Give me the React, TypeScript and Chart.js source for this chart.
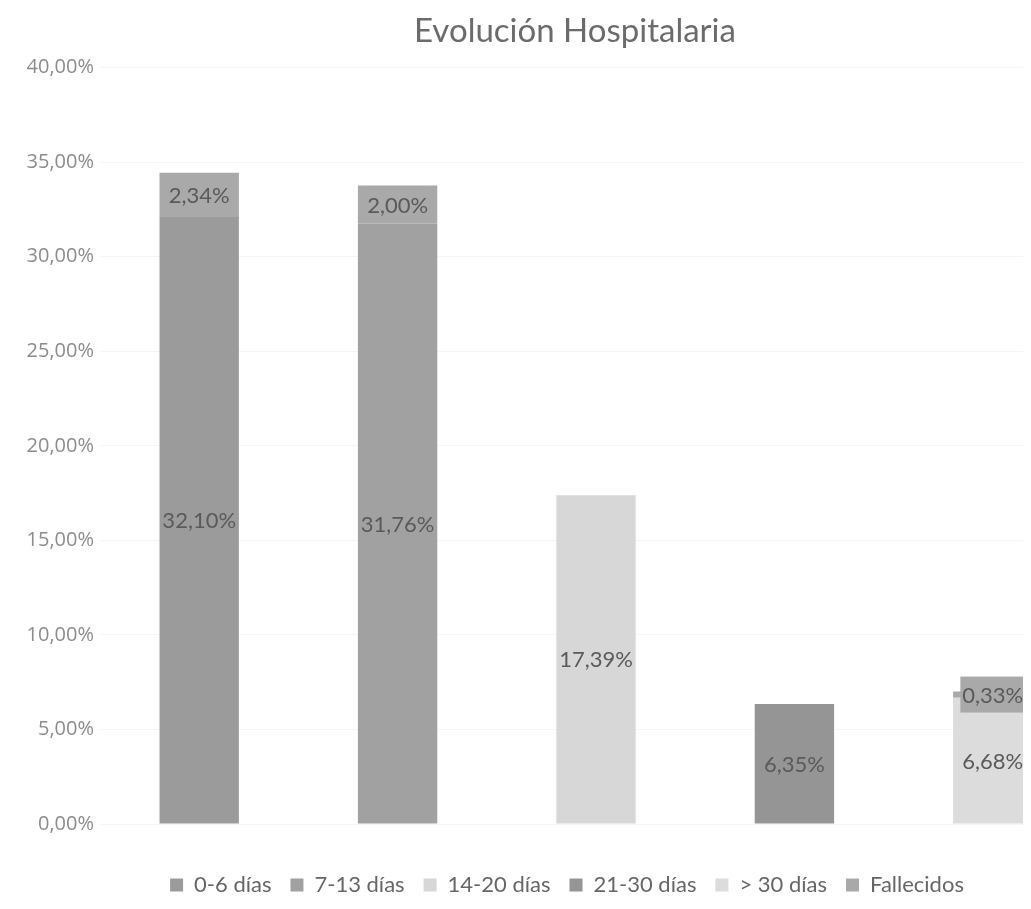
import React, { useEffect, useRef } from "react";
import { Chart, registerables } from "chart.js";

Chart.register(...registerables);

const TITLE = "Evolución Hospitalaria";
const categories = ["1", "2", "3", "4", "5"];
const seriesNames = ["0-6 días", "7-13 días", "14-20 días", "21-30 días", "> 30 días", "Fallecidos"];
const dias0_6: (number | null)[] = [32.1, null, null, null, null];
const dias7_13: (number | null)[] = [null, 31.76, null, null, null];
const dias14_20: (number | null)[] = [null, null, 17.39, null, null];
const dias21_30: (number | null)[] = [null, null, null, 6.35, null];
const dias30plus: (number | null)[] = [null, null, null, null, 6.68];
const fallecidos: (number | null)[] = [2.34, 2.0, null, null, 0.33];
const seriesColors = ["#9b9b9b", "#a1a1a1", "#d7d7d7", "#959595", "#dcdcdc", "#a9a9a9"];
const yTicks = { min: 0, max: 40, step: 5 };

const fmt = (v: number, d: number) => v.toFixed(d).replace(".", ",") + "%";

const labelPlugin = {
  id: "segLabels",
  afterLayout(chart: any) {
    if (chart.titleBlock) {
      chart.titleBlock.left += 25;
      chart.titleBlock.right += 25;
    }
    if (chart.legend) {
      chart.legend.left += 17;
      chart.legend.right += 17;
    }
  },
  afterDatasetsDraw(chart: any) {
    const ctx = chart.ctx;
    ctx.save();
    ctx.font = "22px Lato";
    ctx.textAlign = "center";
    ctx.textBaseline = "middle";
    chart.data.datasets.forEach((ds: any, di: number) => {
      const meta = chart.getDatasetMeta(di);
      meta.data.forEach((el: any, i: number) => {
        const v = ds.data[i];
        if (v == null) return;
        const cy = (el.y + el.base) / 2;
        const txt = fmt(v, 2);
        const w = Math.max(ctx.measureText(txt).width + 4, 0);
        const h = 36;
        ctx.fillStyle = ds.backgroundColor;
        ctx.fillRect(el.x - w / 2, cy - h / 2, w, h);
        ctx.fillStyle = "#5a5a5a";
        ctx.fillText(txt, el.x, cy + 1);
      });
    });
    ctx.restore();
  },
};

export default function App() {
  const ref = useRef<HTMLCanvasElement | null>(null);
  useEffect(() => {
    if (!ref.current) return;
    const data = [dias0_6, dias7_13, dias14_20, dias21_30, dias30plus, fallecidos];
    const chart = new Chart(ref.current, {
      type: "bar",
      data: {
        labels: categories,
        datasets: data.map((d, i) => ({
          label: seriesNames[i],
          data: d,
          backgroundColor: seriesColors[i],
          borderWidth: 0,
          categoryPercentage: 1,
          barPercentage: 0.4,
        })),
      },
      options: {
        responsive: false,
        animation: false,
        layout: { padding: { left: 0, right: 50, top: 0, bottom: 2 } },
        plugins: {
          title: {
            display: true,
            text: TITLE,
            color: "#6b6b6b",
            font: { family: "Lato", size: 33, weight: "normal" },
            padding: { top: 4, bottom: 16 },
          },
          legend: {
            position: "bottom",
            labels: {
              color: "#666666",
              font: { family: "Lato", size: 22 },
              boxWidth: 13,
              boxHeight: 13,
              padding: 19,
            },
          },
          tooltip: { enabled: false },
        },
        scales: {
          x: {
            stacked: true,
            ticks: { display: false },
            grid: { display: false },
            border: { display: false },
            afterFit: (s: any) => {
              s.height = 31;
            },
          },
          y: {
            stacked: true,
            min: yTicks.min,
            max: yTicks.max,
            ticks: {
              stepSize: yTicks.step,
              color: "#8c8c8c",
              font: { family: "Open Sans", size: 20 },
              padding: 6,
              callback: (v: any) => fmt(Number(v), 2),
            },
            grid: { color: "#f5f5f5", drawTicks: false },
            border: { display: false },
            afterFit: (s: any) => {
              s.width = 92;
            },
          },
        },
      },
      plugins: [labelPlugin],
    });
    return () => chart.destroy();
  }, []);
  return (
    <div style={{ width: 1015, height: 893, overflow: "hidden" }}>
      <canvas ref={ref} width={1134} height={900} style={{ display: "block" }} />
    </div>
  );
}
